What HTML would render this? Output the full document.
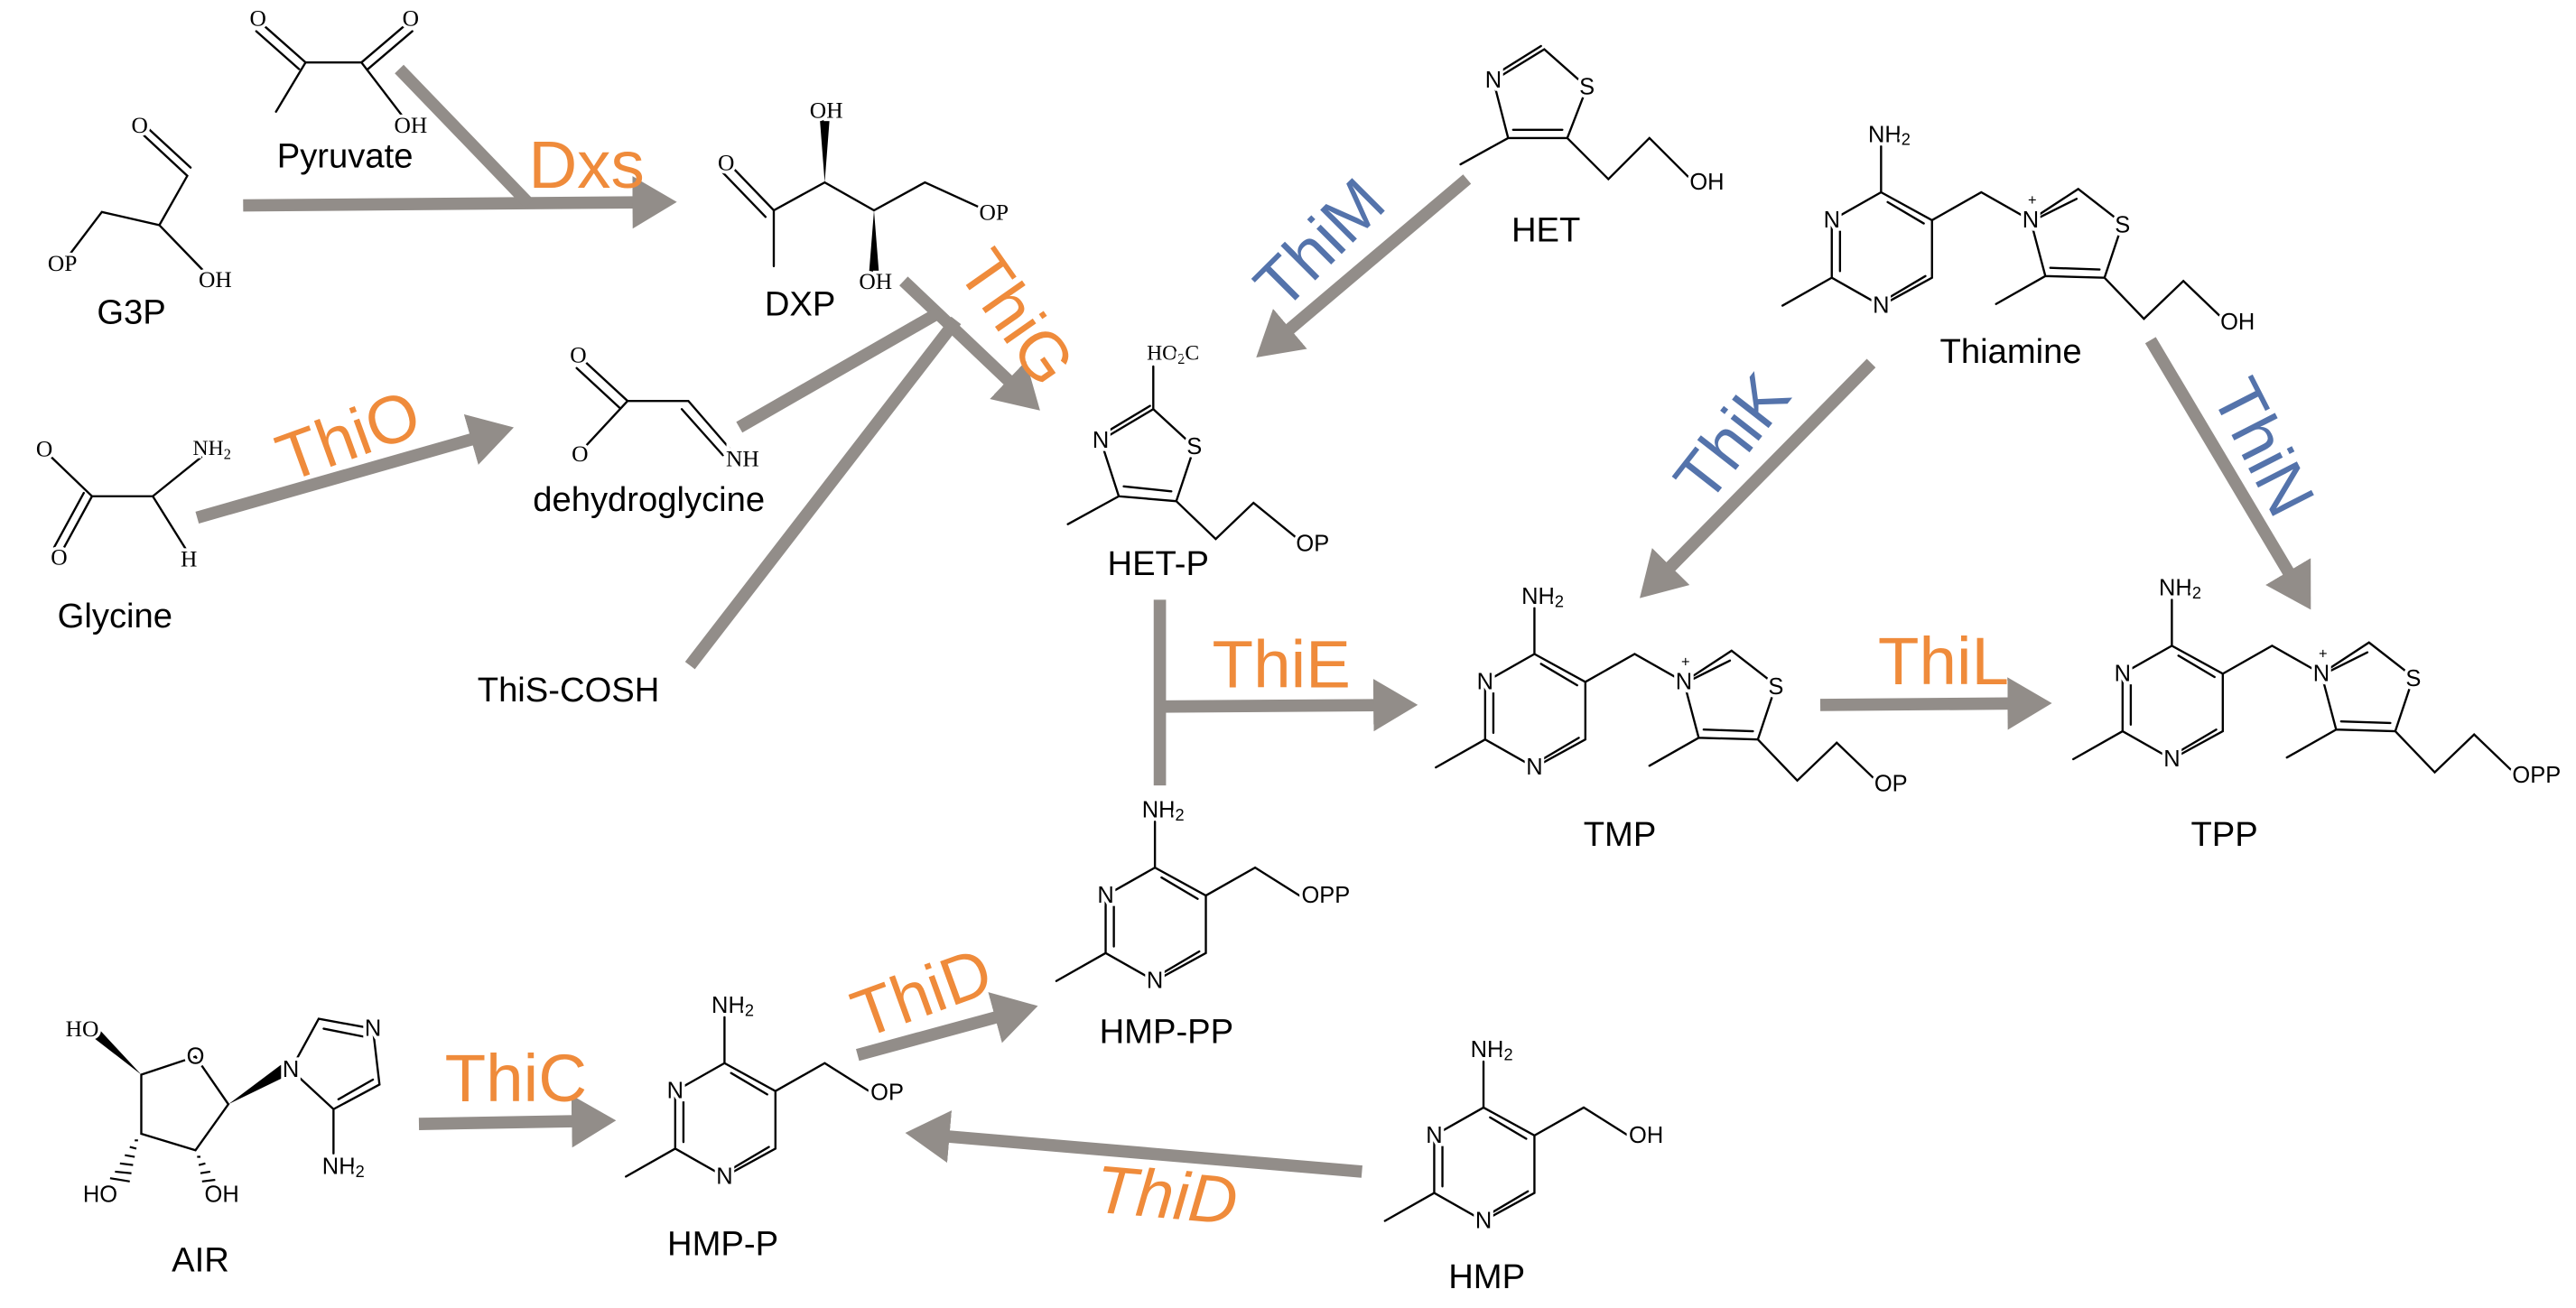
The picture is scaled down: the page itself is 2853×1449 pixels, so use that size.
<!DOCTYPE html>
<html><head><meta charset="utf-8"><style>
html,body{margin:0;padding:0;background:#fff;}
svg{display:block;}
.b{stroke:#000;stroke-width:1.3;fill:none;stroke-linecap:round;}
.a{stroke:#928d89;stroke-width:7.5;fill:none;}
.s{font-family:"Liberation Serif",serif;font-size:14px;fill:#000;text-anchor:middle;dominant-baseline:central;stroke:#fff;stroke-width:4;paint-order:stroke;}
.t{font-family:"Liberation Sans",sans-serif;font-size:14px;fill:#000;text-anchor:middle;dominant-baseline:central;stroke:#fff;stroke-width:4;paint-order:stroke;}
.p{font-family:"Liberation Sans",sans-serif;font-size:9px;fill:#000;text-anchor:middle;dominant-baseline:central;}
.l{font-family:"Liberation Sans",sans-serif;font-size:21px;fill:#000;text-anchor:middle;dominant-baseline:central;}
.o{font-family:"Liberation Sans",sans-serif;font-size:41px;fill:#ef8b3b;text-anchor:middle;dominant-baseline:central;}
.u{font-family:"Liberation Sans",sans-serif;font-size:41px;fill:#5473ab;text-anchor:middle;dominant-baseline:central;}
</style></head><body>
<svg width="2853" height="1449" viewBox="0 0 1568 796" preserveAspectRatio="none" xmlns="http://www.w3.org/2000/svg">
<defs>
<marker id="h" markerUnits="userSpaceOnUse" markerWidth="30" markerHeight="34" refX="20" refY="16" orient="auto">
<path d="M0,0 L27,16 L0,32 z" fill="#928d89"/>
</marker>
</defs>

<!-- ARROWS -->
<line class="a" x1="148" y1="125" x2="405" y2="123" marker-end="url(#h)"/>
<line class="a" x1="243" y1="42" x2="322" y2="124"/>
<line class="a" x1="120" y1="315" x2="306" y2="262" marker-end="url(#h)"/>
<line class="a" x1="550" y1="171" x2="628" y2="245" marker-end="url(#h)"/>
<line class="a" x1="450" y1="260" x2="572" y2="190"/>
<line class="a" x1="420" y1="405" x2="582" y2="195"/>
<line class="a" x1="893" y1="109" x2="770" y2="213" marker-end="url(#h)"/>
<line class="a" x1="1139" y1="221" x2="1003" y2="359" marker-end="url(#h)"/>
<line class="a" x1="1309" y1="207" x2="1403" y2="365" marker-end="url(#h)"/>
<line class="a" x1="706" y1="365" x2="706" y2="478"/>
<line class="a" x1="706" y1="430" x2="856" y2="429" marker-end="url(#h)"/>
<line class="a" x1="1108" y1="429" x2="1242" y2="428" marker-end="url(#h)"/>
<line class="a" x1="522" y1="642" x2="625" y2="614" marker-end="url(#h)"/>
<line class="a" x1="255" y1="684" x2="368" y2="682" marker-end="url(#h)"/>
<line class="a" x1="829" y1="713" x2="558" y2="690" marker-end="url(#h)"/>

<!-- ENZYME LABELS -->
<text class="o" x="357" y="100">Dxs</text>
<text class="o" x="619" y="193" transform="rotate(55 619 193)">ThiG</text>
<text class="o" x="212" y="265" transform="rotate(-20 212 265)">ThiO</text>
<text class="u" x="803" y="148" transform="rotate(-45 803 148)">ThiM</text>
<text class="u" x="1054" y="266" transform="rotate(-52 1054 266)">ThiK</text>
<text class="u" x="1378" y="272" transform="rotate(63 1378 272)">ThiN</text>
<text class="o" x="780" y="404">ThiE</text>
<text class="o" x="1183" y="402">ThiL</text>
<text class="o" x="561" y="604" transform="rotate(-20 561 604)">ThiD</text>
<text class="o" x="314" y="656">ThiC</text>
<text class="o" x="710" y="727" font-style="italic" transform="rotate(5 710 727)">ThiD</text>

<!-- PYRUVATE -->
<path class="b" d="M168,68 L186,38 L220,38 L246,72 M186,38 L160,15 M182,42 L156,19 M220,38 L247,15 M224,42 L251,19"/>
<text class="s" x="157" y="11">O</text><text class="s" x="250" y="11">O</text><text class="s" x="250" y="76">OH</text>
<text class="l" x="210" y="95">Pyruvate</text>

<!-- G3P -->
<path class="b" d="M85,80 L114,107 L97,137 L62,129 L40,158 M97,137 L126,167 M90,78 L116,102"/>
<text class="s" x="85" y="76">O</text><text class="s" x="38" y="160">OP</text><text class="s" x="131" y="170">OH</text>
<text class="l" x="80" y="190">G3P</text>

<!-- DXP -->
<path class="b" d="M445,101 L471,128 L502,111 L532,128 L563,111 L598,127 M440,105 L466,132 M471,128 L471,162"/>
<polygon points="502,111 499,72 505,72" fill="#000"/>
<polygon points="532,128 529,166 535,166" fill="#000"/>
<text class="s" x="442" y="99">O</text><text class="s" x="503" y="67">OH</text><text class="s" x="533" y="171">OH</text><text class="s" x="605" y="129">OP</text>
<text class="l" x="487" y="185">DXP</text>

<!-- GLYCINE -->
<path class="b" d="M30,277 L56,302 L93,302 L124,277 M56,302 L38,335 M51,300 L33,333 M93,302 L113,334"/>
<text class="s" x="27" y="273">O</text><text class="s" x="36" y="339">O</text><text class="s" x="115" y="340">H</text>
<text class="s" x="129" y="273" style="font-size:13px">NH<tspan font-size="9" dy="3">2</tspan></text>
<text class="l" x="70" y="375">Glycine</text>

<!-- DEHYDROGLYCINE -->
<path class="b" d="M356,220 L382,244 L419,244 L445,274 M351,224 L377,248 M415,249 L440,277 M382,244 L356,272"/>
<text class="s" x="352" y="216">O</text><text class="s" x="353" y="276">O</text><text class="s" x="452" y="279">NH</text>
<text class="l" x="395" y="304">dehydroglycine</text>
<text class="l" x="346" y="420">ThiS-COSH</text>

<!-- HET-P -->
<path class="b" d="M702,249 L702,223 M670,268 L702,249 L727,272 L716,305 L681,302 L670,268 M675,262 L700,247 M684,296 L713,299 M681,302 L650,319 M716,305 L740,328 L763,306 L790,328"/>
<text class="s" x="714" y="215" style="font-size:13px">HO<tspan font-size="9" dy="3">2</tspan><tspan dy="-3">C</tspan></text>
<text class="t" x="670" y="268">N</text><text class="t" x="727" y="272">S</text><text class="t" x="799" y="331">OP</text>
<text class="l" x="705" y="343">HET-P</text>

<!-- HET -->
<path class="b" d="M909,49 L940,30 L966,53 L954,84 L918,84 L909,49 M914,43 L938,28 M921,79 L951,79 M918,84 L889,100 M954,84 L979,109 L1004,84 L1028,108"/>
<text class="t" x="909" y="49">N</text><text class="t" x="966" y="53">S</text><text class="t" x="1039" y="111">OH</text>
<text class="l" x="941" y="140">HET</text>

<!-- PYRIMIDINES -->
<g transform="translate(1145,117)">
<path class="b" d="M0,0 L-30,17 L-30,52 L0,69 L31,52 L31,17 L0,0 M-25,22 L-25,48 M5,64 L27,51 M4,6 L26,19 M-30,52 L-60,69 M0,0 L0,-28 M31,17 L61,0 L91,17"/>
<text class="t" x="-30" y="17">N</text><text class="t" x="0" y="69">N</text>
<text class="t" x="5" y="-35">NH<tspan font-size="10" dy="3">2</tspan></text>
<g transform="translate(91,17)">
<path class="b" d="M0,0 L29,-19 L56,2 L45,35 L9,34 L0,0 M6,-2 L28,-13 M12,29 L42,30 M9,34 L-21,51 M45,35 L69,60 L93,37 L117,60"/>
<text class="t" x="0" y="0">N</text><text class="p" x="1" y="-12">+</text><text class="t" x="56" y="3">S</text>
<text class="t" x="126" y="62">OH</text>
</g>
</g>
<text class="l" x="1224" y="214">Thiamine</text>

<g transform="translate(934,398)">
<path class="b" d="M0,0 L-30,17 L-30,52 L0,69 L31,52 L31,17 L0,0 M-25,22 L-25,48 M5,64 L27,51 M4,6 L26,19 M-30,52 L-60,69 M0,0 L0,-28 M31,17 L61,0 L91,17"/>
<text class="t" x="-30" y="17">N</text><text class="t" x="0" y="69">N</text>
<text class="t" x="5" y="-35">NH<tspan font-size="10" dy="3">2</tspan></text>
<g transform="translate(91,17)">
<path class="b" d="M0,0 L29,-19 L56,2 L45,35 L9,34 L0,0 M6,-2 L28,-13 M12,29 L42,30 M9,34 L-21,51 M45,35 L69,60 L93,37 L117,60"/>
<text class="t" x="0" y="0">N</text><text class="p" x="1" y="-12">+</text><text class="t" x="56" y="3">S</text>
<text class="t" x="126" y="62">OP</text>
</g>
</g>
<text class="l" x="986" y="508">TMP</text>

<g transform="translate(1322,393)">
<path class="b" d="M0,0 L-30,17 L-30,52 L0,69 L31,52 L31,17 L0,0 M-25,22 L-25,48 M5,64 L27,51 M4,6 L26,19 M-30,52 L-60,69 M0,0 L0,-28 M31,17 L61,0 L91,17"/>
<text class="t" x="-30" y="17">N</text><text class="t" x="0" y="69">N</text>
<text class="t" x="5" y="-35">NH<tspan font-size="10" dy="3">2</tspan></text>
<g transform="translate(91,17)">
<path class="b" d="M0,0 L29,-19 L56,2 L45,35 L9,34 L0,0 M6,-2 L28,-13 M12,29 L42,30 M9,34 L-21,51 M45,35 L69,60 L93,37 L117,60"/>
<text class="t" x="0" y="0">N</text><text class="p" x="1" y="-12">+</text><text class="t" x="56" y="3">S</text>
<text class="t" x="131" y="62">OPP</text>
</g>
</g>
<text class="l" x="1354" y="508">TPP</text>

<g transform="translate(703,528)">
<path class="b" d="M0,0 L-30,17 L-30,52 L0,69 L31,52 L31,17 L0,0 M-25,22 L-25,48 M5,64 L27,51 M4,6 L26,19 M-30,52 L-60,69 M0,0 L0,-28 M31,17 L61,0 L88,17"/>
<text class="t" x="-30" y="17">N</text><text class="t" x="0" y="69">N</text>
<text class="t" x="5" y="-35">NH<tspan font-size="10" dy="3">2</tspan></text>
<text class="t" x="104" y="17">OPP</text>
</g>
<text class="l" x="710" y="628">HMP-PP</text>

<g transform="translate(441,647)">
<path class="b" d="M0,0 L-30,17 L-30,52 L0,69 L31,52 L31,17 L0,0 M-25,22 L-25,48 M5,64 L27,51 M4,6 L26,19 M-30,52 L-60,69 M0,0 L0,-28 M31,17 L61,0 L88,17"/>
<text class="t" x="-30" y="17">N</text><text class="t" x="0" y="69">N</text>
<text class="t" x="5" y="-35">NH<tspan font-size="10" dy="3">2</tspan></text>
<text class="t" x="99" y="18">OP</text>
</g>
<text class="l" x="440" y="757">HMP-P</text>

<g transform="translate(903,674)">
<path class="b" d="M0,0 L-30,17 L-30,52 L0,69 L31,52 L31,17 L0,0 M-25,22 L-25,48 M5,64 L27,51 M4,6 L26,19 M-30,52 L-60,69 M0,0 L0,-28 M31,17 L61,0 L88,17"/>
<text class="t" x="-30" y="17">N</text><text class="t" x="0" y="69">N</text>
<text class="t" x="5" y="-35">NH<tspan font-size="10" dy="3">2</tspan></text>
<text class="t" x="99" y="17">OH</text>
</g>
<text class="l" x="905" y="777">HMP</text>

<!-- AIR -->
<path class="b" d="M86,654 L119,643 L139,672 L119,700 L86,690 L86,654 M177,651 L194,620 L227,626 L231,660 L203,675 L177,651 M197,626 L222,631 M206,669 L227,657 M203,675 L203,702"/>
<polygon points="86,654 55,630 60,626" fill="#000"/>
<polygon points="139,672 171,648 174,655" fill="#000"/>
<path d="M84,694 L82,694 M83,699 L79,698 M82,704 L76,703 M81,709 L73,708 M80,714 L70,713 M79,719 L67,717" stroke="#000" stroke-width="1.2"/>
<path d="M120,704 L122,704 M121,709 L125,708 M122,714 L128,713 M123,719 L131,718" stroke="#000" stroke-width="1.2"/>
<text class="s" x="50" y="626">HO</text><text class="t" x="119" y="643">O</text>
<text class="t" x="61" y="727">HO</text><text class="t" x="135" y="727">OH</text>
<text class="t" x="177" y="651">N</text><text class="t" x="227" y="626">N</text>
<text class="t" x="209" y="710">NH<tspan font-size="10" dy="3">2</tspan></text>
<text class="l" x="122" y="767">AIR</text>
</svg>
</body></html>
